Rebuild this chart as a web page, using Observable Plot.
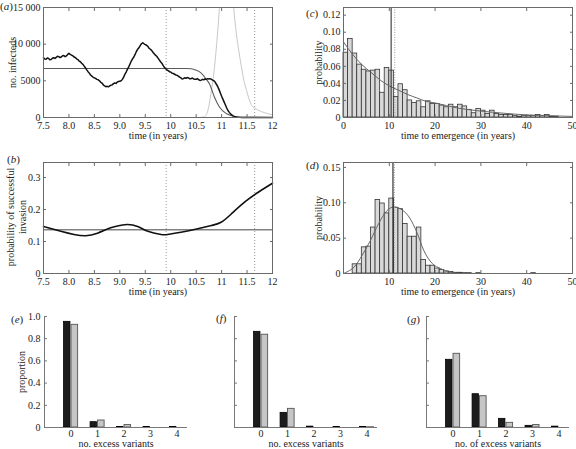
<!DOCTYPE html>
<html><head><meta charset="utf-8">
<script src="https://cdn.jsdelivr.net/npm/d3@7"></script>
<script src="https://cdn.jsdelivr.net/npm/@observablehq/plot@0.6"></script>
<style>
body{margin:0;background:#fff;}
#fig{position:relative;width:576px;height:449px;font-family:"Liberation Serif",serif;color:#222;overflow:hidden;}
#fig svg, #fig svg text, #fig svg g{font-family:"Liberation Serif",serif !important;}
.lbl{position:absolute;font-size:11px;line-height:12px;white-space:nowrap;}
.ylab{position:absolute;font-size:10px;line-height:12px;white-space:nowrap;text-align:center;transform:translate(-50%,-50%) rotate(-90deg);}
</style></head><body><div id="fig"></div>
<script>
// ---------- (a) number of infecteds ----------
const aTime = [7.500,7.525,7.550,7.575,7.600,7.625,7.650,7.675,7.700,7.725,7.750,7.775,7.800,7.825,7.850,7.875,7.900,7.925,7.950,7.975,8.000,8.025,8.050,8.075,8.100,8.125,8.150,8.175,8.200,8.225,8.250,8.275,8.300,8.325,8.350,8.375,8.400,8.425,8.450,8.475,8.500,8.525,8.550,8.575,8.600,8.625,8.650,8.675,8.700,8.725,8.750,8.775,8.800,8.825,8.850,8.875,8.900,8.925,8.950,8.975,9.000,9.025,9.050,9.075,9.100,9.125,9.150,9.175,9.200,9.225,9.250,9.275,9.300,9.325,9.350,9.375,9.400,9.425,9.450,9.475,9.500,9.525,9.550,9.575,9.600,9.625,9.650,9.675,9.700,9.725,9.750,9.775,9.800,9.825,9.850,9.875,9.900,9.925,9.950,9.975,10.000,10.025,10.050,10.075,10.100,10.125,10.150,10.175,10.200,10.225,10.250,10.275,10.300,10.325,10.350,10.375,10.400,10.425,10.450,10.475,10.500,10.525,10.550,10.575,10.600,10.625,10.650,10.675,10.700,10.725,10.750,10.775,10.800,10.825,10.850,10.875,10.900,10.925,10.950,10.975,11.000,11.025,11.050,11.075,11.100,11.125,11.150,11.175,11.200,11.225,11.250,11.275,11.300,11.350,11.400,12.000];
const aInfected = [8140,7980,7950,8120,8050,7880,7900,8080,8150,8050,8200,8350,8300,8180,8250,8420,8450,8300,8400,8600,8750,8600,8500,8420,8250,8180,8000,7900,7700,7600,7400,7250,7000,6780,6500,6250,6050,5800,5650,5480,5400,5320,5200,5150,5000,4800,4700,4450,4300,4200,4250,4180,4300,4400,4450,4620,4700,4650,4850,4900,4950,5000,5200,5500,5900,6200,6600,6900,7300,7700,8000,8250,8600,9000,9300,9500,9800,10050,10200,10050,9950,9850,9700,9450,9300,9150,8900,8700,8500,8350,8100,7850,7600,7400,7100,6850,6650,6500,6400,6250,6200,6050,6000,5900,5800,5750,5650,5500,5400,5250,5300,5420,5350,5450,5400,5280,5300,5380,5250,5200,5200,5300,5150,5050,5100,5200,5150,5250,5200,5300,5250,5300,5200,5100,5000,4800,4500,4200,3800,3350,2900,2500,2100,1700,1300,950,700,500,350,230,150,90,50,20,0,0];
const aDetTime = [7.5,10.3,10.4,10.5,10.6,10.7,10.76,10.86,10.96,11.1,11.26,11.4,12];
const aDetInfected = [6680,6680,6650,6450,6050,5200,4600,2770,1400,500,140,20,0];
const aMutTime = [10.55,10.66,10.73,10.79,10.86,10.93,10.98,11.05,11.12,11.2,11.25,11.29,11.34,11.39,11.44,11.49,11.54,11.59,11.65,11.72,11.85,12];
const aMutInfected = [0,100,960,3230,6860,12320,17000,21500,22000,18000,14000,11420,9000,6860,5000,3680,2500,1640,1300,1000,640,370];
const timeMarks = [9.91, 11.65];
const aXTicks = [7.5,8,8.5,9,9.5,10,10.5,11,11.5,12];
const aXTickLabels = ["7.5","8.0","8.5","9.0","9.5","10","10.5","11","11.5","12"];
const aYTicks = [0,5000,10000,15000];
const aYTickLabels = ["0","5000","10 000","15 000"];

// ---------- (b) probability of successful invasion ----------
const bTime = [7.5,7.84,8.1,8.33,8.56,8.82,9.0,9.15,9.35,9.55,9.81,9.94,10.2,10.53,10.8,10.99,11.19,11.45,11.72,12];
const bProb = [0.147,0.132,0.122,0.118,0.126,0.143,0.150,0.153,0.147,0.132,0.122,0.122,0.129,0.140,0.150,0.160,0.186,0.223,0.254,0.282];
const bConstant = [0.1365];
const bYTicks = [0,0.1,0.2,0.3];
const bYTickLabels = ["0","0.1","0.2","0.3"];

// ---------- (c) time to emergence, histogram ----------
const cProb = [0.076,0.092,0.075,0.062,0.056,0.054,0.055,0.056,0.029,0.058,0.055,0.024,0.039,0.032,0.020,0.017,0.019,0.012,0.019,0.016,0.016,0.014,0.012,0.015,0.012,0.015,0.013,0.009,0.005,0.010,0.008,0.004,0.008,0.004,0.003,0.003,0.003,0.002,0.001,0.002,0.002,0.002,0.003,0.002,0.003,0.001,0.001,0,0,0];
const cCurveT = [0,2,4,6,8,10,12,14,16,18,20,25,30,35,40,45,50];
const cCurveP = [0.0885,0.074,0.062,0.053,0.044,0.037,0.032,0.027,0.023,0.019,0.017,0.011,0.0075,0.005,0.003,0.002,0.0013];
const cSolid = [10.4];
const cDotted = [11.2];
const cYTicks = [0,0.02,0.04,0.06,0.08,0.10,0.12];
const cYTickLabels = ["0","0.02","0.04","0.06","0.08","0.10","0.12"];
const emXTicks = [0,10,20,30,40,50];
const emXTickLabels = ["0","10","20","30","40","50"];

// ---------- (d) time to emergence, histogram ----------
const dProb = [0,0,0.013,0.013,0.037,0.038,0.065,0.104,0.099,0.085,0.106,0.093,0.091,0.070,0.052,0.052,0.065,0.019,0.011,0.011,0.007,0.005,0.003,0.002,0.001,0.001,0.0005,0.0005,0,0.0005,0,0,0,0,0,0,0,0,0,0,0,0.0005,0,0,0,0,0,0,0,0];
const dCurveT = [0,1,2.3,4.1,5.9,7.7,9.5,11,12.8,14.3,16.1,17.5,19.4,21.2,23.4,26,30,42];
const dCurveP = [0,0.003,0.009,0.026,0.047,0.071,0.089,0.094,0.090,0.080,0.057,0.033,0.014,0.007,0.0015,0.0003,0,0];
const dSolid = [10.8];
const dDotted = [11.1];
const dXTicks = [10,20,30,40,50];
const dXTickLabels = ["10","20","30","40","50"];
const dYTicks = [0,0.05,0.10,0.15];
const dYTickLabels = ["0","0.05","0.10","0.15"];

// ---------- (e)(f)(g) excess variants ----------
const variants = [0,1,2,3,4];
const eBlack = [0.952,0.048,0.005,0.004,0.004];
const eGray  = [0.925,0.063,0.022,0,0];
const fBlack = [0.862,0.132,0.008,0.004,0.004];
const fGray  = [0.836,0.168,0,0,0.002];
const gBlack = [0.610,0.300,0.078,0.015,0.008];
const gGray  = [0.664,0.282,0.042,0.022,0];
const propTicks = [0,0.2,0.4,0.6,0.8,1.0];
const propTickLabels = ["0","0.2","0.4","0.6","0.8","1.0"];

// ---------- helpers ----------
const fig = document.getElementById("fig");
const FONT = '"Liberation Serif", serif';
const style = {fontFamily:FONT, fontSize:"10px", color:"#222", background:"transparent", overflow:"visible"};
function place(el, left, top){ el.style.position="absolute"; el.style.left=left+"px"; el.style.top=top+"px"; el.setAttribute("font-family", FONT); fig.appendChild(el); }
function fmt(ticks, labels){ return d => labels[ticks.indexOf(d)]; }
function boxAxes(o){
  return [
    Plot.frame({stroke:"#6a6a6a"}),
    Plot.axisX({ticks:o.xTicks, tickFormat:fmt(o.xTicks,o.xLabels), tickSize:-3, tickPadding:7.5, stroke:"#6a6a6a", fill:"#222",
      label:o.xLabel, labelAnchor:"center", labelArrow:"none", labelOffset:21}),
    Plot.axisX({anchor:"top", ticks:o.xTicks, tickFormat:()=>"", tickSize:-3, stroke:"#6a6a6a", label:null}),
    Plot.axisY({ticks:o.yTicks, tickFormat:fmt(o.yTicks,o.yLabels), tickSize:-3, tickPadding:6, stroke:"#6a6a6a", fill:"#222",
      label:o.yLabel, labelAnchor:"center", labelArrow:"none", labelOffset:o.yLabelOffset}),
    Plot.axisY({anchor:"right", ticks:o.yTicks, tickFormat:()=>"", tickSize:-3, stroke:"#6a6a6a", label:null})
  ];
}
const rows = (xs, ys) => xs.map((x,i)=>({x, y: ys[i]}));
const bins = ps => ps.map((p,i)=>({x0:i, x1:i+1, p}));

// (a)
place(Plot.plot({
  width:290, height:145, marginLeft:43, marginRight:18, marginTop:7, marginBottom:28, style,
  x:{domain:[7.5,12]}, y:{domain:[0,15000]},
  marks:[
    Plot.ruleX(timeMarks, {stroke:"#999", strokeDasharray:"1,2"}),
    Plot.line(rows(aMutTime,aMutInfected), {x:"x", y:"y", stroke:"#c8c8c8", strokeWidth:1, curve:"monotone-x", clip:true}),
    Plot.line(rows(aDetTime,aDetInfected), {x:"x", y:"y", stroke:"#5a5a5a", strokeWidth:1.1, curve:"monotone-x"}),
    Plot.line(rows(aTime,aInfected), {x:"x", y:"y", stroke:"#111", strokeWidth:1.5}),
    ...boxAxes({xTicks:aXTicks, xLabels:aXTickLabels, yTicks:aYTicks, yLabels:aYTickLabels, xLabel:"time (in years)", yLabel:"no. infecteds", yLabelOffset:35})
  ]
}), 0, 0);

// (b)
place(Plot.plot({
  width:290, height:150, marginLeft:43, marginRight:18, marginTop:12, marginBottom:27, style,
  x:{domain:[7.5,12]}, y:{domain:[0,0.347]},
  marks:[
    Plot.ruleX(timeMarks, {stroke:"#999", strokeDasharray:"1,2"}),
    Plot.ruleY(bConstant, {stroke:"#444", strokeWidth:1}),
    Plot.line(rows(bTime,bProb), {x:"x", y:"y", stroke:"#111", strokeWidth:1.6, curve:"natural"}),
    ...boxAxes({xTicks:aXTicks, xLabels:aXTickLabels, yTicks:bYTicks, yLabels:bYTickLabels, xLabel:"time (in years)", yLabel:null, yLabelOffset:30})
  ]
}), 0, 150);

// (c)
place(Plot.plot({
  width:286, height:145, marginLeft:53, marginRight:4, marginTop:7, marginBottom:28, style,
  x:{domain:[0,50]}, y:{domain:[0,0.129]},
  marks:[
    Plot.rect(bins(cProb), {x1:"x0", x2:"x1", y1:d=>0, y2:"p", fill:"#d9d9d9", stroke:"#333", strokeWidth:0.8}),
    Plot.line(rows(cCurveT,cCurveP), {x:"x", y:"y", stroke:"#666", strokeWidth:1, curve:"monotone-x"}),
    Plot.ruleX(cSolid, {stroke:"#333", strokeWidth:1.1}),
    Plot.ruleX(cDotted, {stroke:"#999", strokeDasharray:"1,1.5"}),
    ...boxAxes({xTicks:emXTicks, xLabels:emXTickLabels, yTicks:cYTicks, yLabels:cYTickLabels, xLabel:"time to emergence (in years)", yLabel:"probability", yLabelOffset:29})
  ]
}), 290, 0);

// (d)
place(Plot.plot({
  width:286, height:150, marginLeft:53, marginRight:4, marginTop:12, marginBottom:27, style,
  x:{domain:[0,50]}, y:{domain:[0,0.157]},
  marks:[
    Plot.rect(bins(dProb), {x1:"x0", x2:"x1", y1:d=>0, y2:"p", fill:"#d9d9d9", stroke:"#333", strokeWidth:0.8}),
    Plot.line(rows(dCurveT,dCurveP), {x:"x", y:"y", stroke:"#666", strokeWidth:1, curve:"monotone-x"}),
    Plot.ruleX(dDotted, {stroke:"#999", strokeDasharray:"1,1.5"}),
    Plot.ruleX(dSolid, {stroke:"#222", strokeWidth:1.1}),
    ...boxAxes({xTicks:dXTicks, xLabels:dXTickLabels, yTicks:dYTicks, yLabels:dYTickLabels, xLabel:"time to emergence (in years)", yLabel:"probability", yLabelOffset:29})
  ]
}), 290, 150);

// (e)(f)(g)
function variantPanel(black, gray, showY, xLabel, width){
  const bd = variants.map((v,i)=>({v, p:black[i]}));
  const gd = variants.map((v,i)=>({v, p:gray[i]}));
  return Plot.plot({
    width, height:144, marginLeft:44, marginRight:width-44-143, marginTop:11, marginBottom:22, style,
    x:{domain:[-1,4.4]}, y:{domain:[0,1]},
    marks:[
      Plot.rect(bd, {x1:d=>d.v-0.26, x2:d=>d.v-0.02, y1:d=>0, y2:"p", fill:"#1c1c1c", stroke:"#000", strokeWidth:0.8}),
      Plot.rect(gd, {x1:d=>d.v+0.02, x2:d=>d.v+0.27, y1:d=>0, y2:"p", fill:"#c6c6c6", stroke:"#555", strokeWidth:0.9}),
      Plot.ruleY([0], {stroke:"#777"}),
      Plot.ruleX([-1], {stroke:"#777"}),
      Plot.axisX({ticks:variants, tickFormat:d=>String(d), tickSize:0, tickPadding:2, fill:"#222",
        label:xLabel, labelAnchor:"center", labelArrow:"none", labelOffset:19}),
      Plot.axisY({ticks:propTicks, tickFormat:showY ? fmt(propTicks,propTickLabels) : ()=>"", tickSize:-3, tickPadding:7, stroke:"#777", fill:"#222",
        label:showY ? "proportion" : null, labelAnchor:"center", labelArrow:"none", labelOffset:27})
    ]
  });
}
place(variantPanel(eBlack, eGray, true, "no. excess variants", 190), 0, 305);
place(variantPanel(fBlack, fGray, false, "no. excess variants", 190), 190, 305);
place(variantPanel(gBlack, gGray, false, "no. of excess variants", 194), 382, 305);

// panel letters and two-line label
const letters = [["a",0,0],["b",7,153],["c",306,7],["d",306,159],["e",11,313],["f",216,312],["g",407,313]];
for (const [t,x,y] of letters){
  const d = document.createElement("div"); d.className="lbl";
  d.innerHTML = "(<i>"+t+"</i>)"; d.style.left=x+"px"; d.style.top=y+"px"; fig.appendChild(d);
}
const yb = document.createElement("div"); yb.className="ylab";
yb.innerHTML = "probability of successful<br>invasion";
yb.style.left="17px"; yb.style.top="217px"; fig.appendChild(yb);
</script></body></html>
